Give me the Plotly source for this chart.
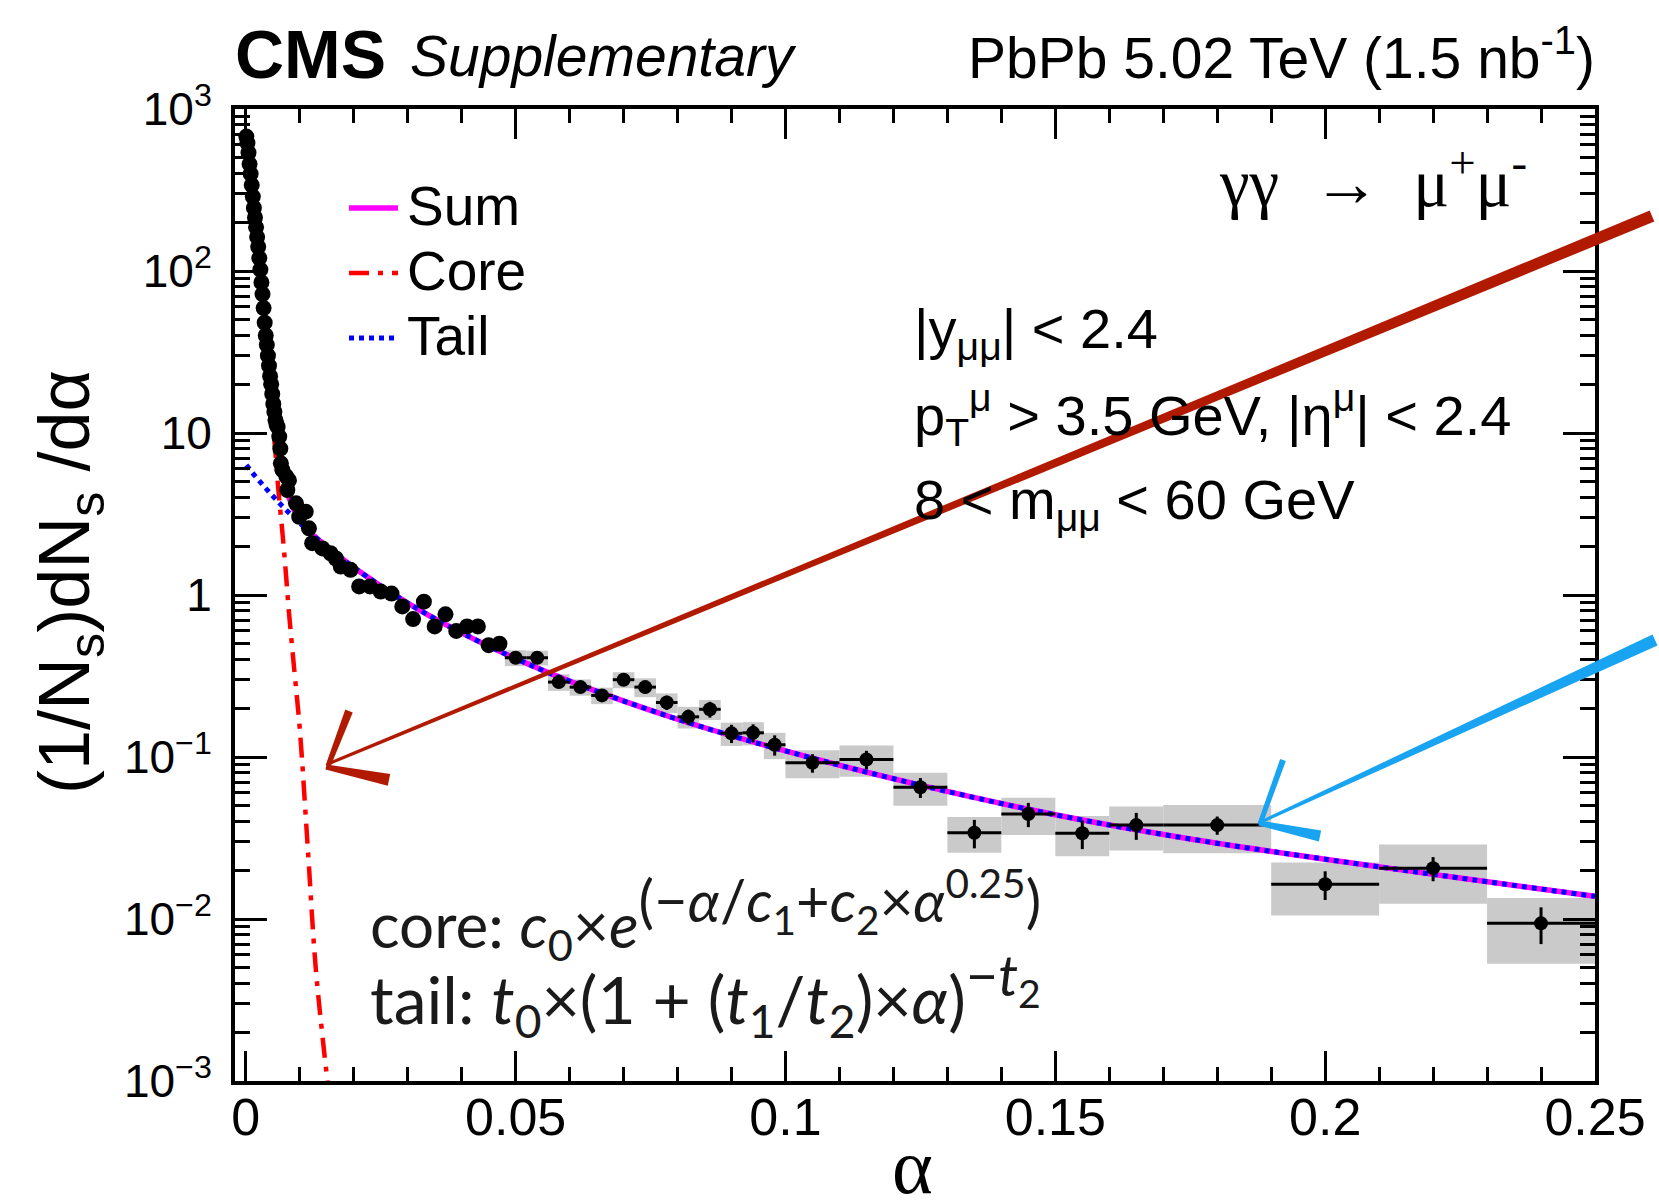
import plotly.graph_objects as go

# ---------------- data ----------------
# finely binned points (no visible error bars)
fine_alpha = [0.0001, 0.0003, 0.0005, 0.0007, 0.0009, 0.0011, 0.0013, 0.0015, 0.0017, 0.0019,
              0.0021, 0.0023, 0.0025, 0.0027, 0.0029, 0.0031, 0.0033, 0.0035, 0.0037, 0.0039,
              0.0041, 0.0043, 0.0045, 0.0047, 0.0049, 0.0051, 0.0053, 0.0055, 0.0057,
              0.0059, 0.0062, 0.0064, 0.0065, 0.0068, 0.0075, 0.0077, 0.0080, 0.0093, 0.0099,
              0.0111, 0.0117, 0.0123, 0.0142, 0.0157, 0.0167, 0.0176, 0.0194,
              0.021, 0.023, 0.025, 0.027, 0.029, 0.031, 0.033, 0.035, 0.037, 0.039,
              0.041, 0.043, 0.045, 0.047]
fine_value = [676, 617, 537, 457, 398, 339, 288, 245, 214, 186,
              162, 141, 120, 102, 85, 72, 59, 48, 40, 35,
              30, 26, 22.4, 20, 17.4, 15.1, 13.5, 12, 11.3,
              10.9, 9.5, 8.0, 6.5, 5.9, 5.4, 4.45, 5.1, 3.68, 3.04,
              3.27, 2.58, 2.09, 1.94, 1.81, 1.68, 1.50, 1.43,
              1.13, 1.13, 1.05, 1.02, 0.85, 0.71, 0.91, 0.64, 0.76, 0.60,
              0.64, 0.64, 0.49, 0.50]

# wider bins with statistical error bars and systematic boxes
bin_center = [0.050, 0.054, 0.058, 0.062, 0.066, 0.070, 0.074, 0.078, 0.082, 0.086,
              0.090, 0.094, 0.098, 0.105, 0.115, 0.125, 0.135, 0.145, 0.155, 0.165,
              0.180, 0.200, 0.220, 0.240]
bin_halfwidth = [0.002] * 13 + [0.005] * 7 + [0.01] * 4
bin_value = [0.41, 0.41, 0.29, 0.27, 0.24, 0.30, 0.27, 0.217, 0.177, 0.197,
             0.140, 0.141, 0.119, 0.092, 0.0966, 0.065, 0.0341, 0.0445, 0.0338, 0.038,
             0.038, 0.0164, 0.0206, 0.0094]
bin_stat = [0.025, 0.025, 0.020, 0.022, 0.019, 0.024, 0.024, 0.022, 0.019, 0.022,
            0.018, 0.018, 0.017, 0.012, 0.0126, 0.0091, 0.0068, 0.0076, 0.0068, 0.0072,
            0.0049, 0.0033, 0.0035, 0.0024]
bin_syst = [0.046, 0.043, 0.034, 0.031, 0.028, 0.034, 0.036, 0.030, 0.027, 0.028,
            0.023, 0.023, 0.022, 0.018, 0.021, 0.015, 0.0085, 0.0115, 0.0094, 0.0115,
            0.0125, 0.0059, 0.0082, 0.0041]

# fit curves
curve_alpha = [0.0001, 0.0005, 0.001, 0.0015, 0.002, 0.0025, 0.003, 0.0035, 0.004, 0.0045,
               0.005, 0.0055, 0.006, 0.0068, 0.0074, 0.008, 0.009, 0.010, 0.0115, 0.013,
               0.0152, 0.02, 0.03, 0.04, 0.05, 0.06, 0.08, 0.1, 0.125, 0.15,
               0.175, 0.2, 0.225, 0.25]
core_curve = [660, 530, 370, 240, 168, 112, 74, 46, 30, 18.5,
              11.5, 7.5, 4.6, 2.4, 1.4, 0.78, 0.34, 0.15, 0.027, 0.0048,
              0.00095] + [None] * 13
tail_curve = [6.34, 6.10, 5.81, 5.54, 5.30, 5.06, 4.84, 4.63, 4.44, 4.25,
              4.08, 3.92, 3.76, 3.53, 3.37, 3.22, 2.99, 2.78, 2.50, 2.26,
              1.97, 1.48, 0.892, 0.584, 0.405, 0.294, 0.171, 0.109, 0.067, 0.0440,
              0.0312, 0.0234, 0.0179, 0.0138]
sum_curve = [(c + t) if c is not None else t for c, t in zip(core_curve, tail_curve)]

legend_labels = ["Sum", "Core", "Tail"]

x_tickvals = [0, 0.05, 0.1, 0.15, 0.2, 0.25]
x_ticktext = ["0", "0.05", "0.1", "0.15", "0.2", "0.25"]
y_tickvals = [1e-3, 1e-2, 1e-1, 1, 10, 100, 1000]
y_ticktext = ["10<sup>−3</sup>", "10<sup>−2</sup>", "10<sup>−1</sup>", "1", "10",
              "10<sup>2</sup>", "10<sup>3</sup>"]

# ---------------- figure ----------------
W, H = 1659, 1204
L, R, T, B = 235, 64, 109, 123
PW, PH = W - L - R, H - T - B
FONT = "Liberation Sans, Arial, Helvetica, sans-serif"
SERIF = "Liberation Serif, DejaVu Serif, serif"
MATH = "Lato, sans-serif"

SUM_LINE = dict(color="#ff00ff", width=5.5)
CORE_LINE = dict(color="#ff0000", width=4.5, dash="20px,9px,5px,9px")
TAIL_LINE = dict(color="#0000ff", width=5, dash="dot")


def paper(px, py):
    return (px - L) / PW, (H - B - py) / PH


def stroke(p1, p2, w1, w2):
    (x1, y1), (x2, y2) = p1, p2
    dx, dy = x2 - x1, y2 - y1
    ln = (dx * dx + dy * dy) ** 0.5
    nx, ny = -dy / ln, dx / ln
    pts = [(x1 + nx * w1 / 2, y1 + ny * w1 / 2), (x2 + nx * w2 / 2, y2 + ny * w2 / 2),
           (x2 - nx * w2 / 2, y2 - ny * w2 / 2), (x1 - nx * w1 / 2, y1 - ny * w1 / 2)]
    pp = [paper(a, b) for a, b in pts]
    return "M " + " L ".join(f"{a:.5f},{b:.5f}" for a, b in pp) + " Z"


fig = go.Figure()

# systematic boxes
fig.add_trace(go.Bar(
    x=bin_center, y=[2 * s for s in bin_syst],
    base=[v - s for v, s in zip(bin_value, bin_syst)],
    width=[2 * w for w in bin_halfwidth],
    marker=dict(color="#cacaca", line=dict(width=0)),
    showlegend=False, hoverinfo="skip"))

fig.add_trace(go.Scatter(x=curve_alpha, y=sum_curve, mode="lines", name=legend_labels[0],
                         showlegend=False, line=dict(shape="spline", **SUM_LINE)))
fig.add_trace(go.Scatter(x=curve_alpha, y=core_curve, mode="lines", name=legend_labels[1],
                         showlegend=False, line=dict(shape="spline", **CORE_LINE)))
fig.add_trace(go.Scatter(x=curve_alpha, y=tail_curve, mode="lines", name=legend_labels[2],
                         showlegend=False, line=dict(shape="spline", **TAIL_LINE)))

fig.add_trace(go.Scatter(x=fine_alpha, y=fine_value, mode="markers", showlegend=False,
                         marker=dict(color="black", size=16)))
fig.add_trace(go.Scatter(
    x=bin_center, y=bin_value, mode="markers", showlegend=False,
    marker=dict(color="black", size=14),
    error_y=dict(type="data", array=bin_stat, color="black", thickness=3, width=0),
    error_x=dict(type="data", array=bin_halfwidth, color="black", thickness=3, width=0)))

# ---- axes ----
fig.update_xaxes(
    range=[-0.002, 0.25], showline=True, linewidth=4, linecolor="black", mirror="allticks",
    ticks="inside", ticklen=30, tickwidth=2.5, tickcolor="black",
    tickmode="array", tickvals=x_tickvals, ticktext=x_ticktext,
    tickfont=dict(family=FONT, size=52, color="black"), ticklabelstandoff=-12,
    minor=dict(tickmode="array", tickvals=[i * 0.01 for i in range(26)], ticks="inside",
               ticklen=14, tickwidth=2.5, tickcolor="black", showgrid=False),
    showgrid=False, zeroline=False, automargin=False)
fig.update_yaxes(
    type="log", range=[-3, 3], showline=True, linewidth=4, linecolor="black", mirror="allticks",
    ticks="inside", ticklen=32, tickwidth=2.5, tickcolor="black",
    tickmode="array", tickvals=y_tickvals, ticktext=y_ticktext,
    tickfont=dict(family=FONT, size=46, color="black"), ticklabelstandoff=10,
    minor=dict(tickmode="array",
               tickvals=[m * 10 ** k for k in range(-3, 3) for m in range(2, 10)],
               ticks="inside", ticklen=15, tickwidth=2.5, tickcolor="black", showgrid=False),
    showgrid=False, zeroline=False, automargin=False)

ann = []


def add_text(text, px, py, size, xanchor="left", family=FONT, color="black", angle=0):
    x, y = paper(px, py)
    ann.append(dict(text=text, x=x, y=y, xref="paper", yref="paper", xanchor=xanchor,
                    yanchor="middle", showarrow=False, textangle=angle,
                    font=dict(family=family, size=size, color=color)))


add_text("<b>CMS</b>", 233, 54, 68)
add_text("<i>Supplementary</i>", 408, 56, 57)
add_text("PbPb 5.02 TeV (1.5 nb<sup>-1</sup>)", 1597, 54, 57, xanchor="right")
add_text("γγ  →  μ<sup>+</sup>μ<sup>-</sup>", 1529, 178, 67, xanchor="right", family=SERIF)
add_text("|y<sub>μμ</sub>| < 2.4", 912, 332, 56)
add_text("p<sub>T</sub><sup>μ</sup> > 3.5 GeV, |η<sup>μ</sup>| < 2.4", 912, 415, 56)
add_text("8 < m<sub>μμ</sub> < 60 GeV", 912, 503, 56)
add_text("core: <i>c</i><sub>0</sub>×<i>e</i><sup><span style='font-size:58px'>(−<i>α</i>/"
         "<i>c</i><sub>1</sub>+<i>c</i><sub>2</sub>×<i>α</i><sup>0.25</sup>)</span></sup>",
         368, 914, 62, family=MATH, color="#1a1a1a")
add_text("tail: <i>t</i><sub>0</sub>×(1 + (<i>t</i><sub>1</sub>/<i>t</i><sub>2</sub>)"
         "×<i>α</i>)<sup><span style='font-size:56px'>−<i>t</i><sub>2</sub></span></sup>",
         368, 994, 66, family=MATH, color="#1a1a1a")
add_text("(1/N<sub>s</sub>)dN<sub>s</sub> /dα", 69, 582, 72, xanchor="center", angle=-90)
add_text("α", 912, 1166, 78, xanchor="center", family=SERIF)

# legend (drawn by hand to match row spacing)
shapes = []
legend_rows = [206, 271, 336]
for label, line, row in zip(legend_labels, [SUM_LINE, CORE_LINE, TAIL_LINE], legend_rows):
    add_text(label, 405, row, 55)
    x0, y0 = paper(349, row + 2)
    x1, _ = paper(398, row + 2)
    shapes.append(dict(type="line", xref="paper", yref="paper", x0=x0, x1=x1, y0=y0, y1=y0,
                       line=line, layer="above"))

# hand-drawn arrows
red = "#b21a00"
blue = "#18a4f0"
for p1, p2, w1, w2, col in [
    ((1652, 216), (328, 764), 12, 3, red),
    ((328, 766), (349, 711), 5, 8, red),
    ((326, 767), (389, 780), 5, 12, red),
    ((1655, 640), (1261, 822), 12, 3, blue),
    ((1260, 824), (1283, 760), 5, 6, blue),
    ((1259, 823), (1320, 836), 5, 11, blue),
]:
    shapes.append(dict(type="path", xref="paper", yref="paper", path=stroke(p1, p2, w1, w2),
                       fillcolor=col, line=dict(width=0), layer="above"))

fig.update_layout(
    width=W, height=H, margin=dict(l=L, r=R, t=T, b=B, autoexpand=False),
    paper_bgcolor="white", plot_bgcolor="white",
    barmode="overlay", showlegend=False,
    font=dict(family=FONT, color="black"),
    annotations=ann, shapes=shapes,
    hovermode=False,
)

fig.write_html("out.html")
